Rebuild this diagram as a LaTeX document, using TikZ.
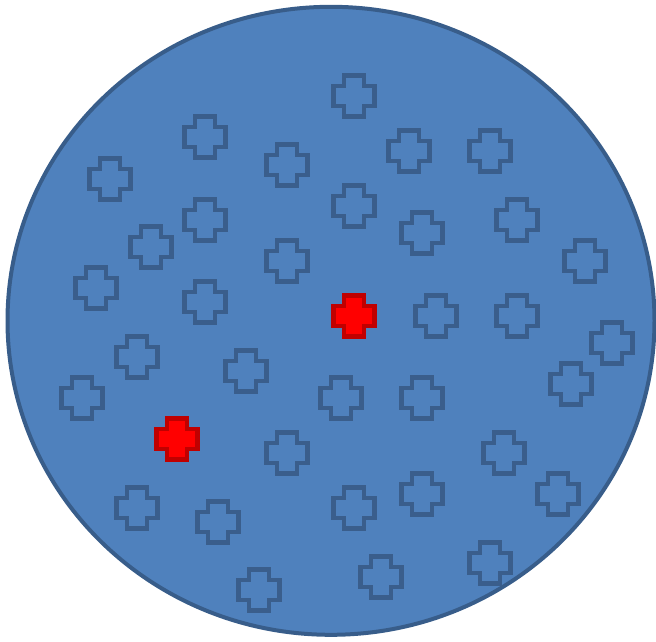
\documentclass[tikz,border=0pt]{standalone}
\definecolor{discfill}{HTML}{4F81BD}
\definecolor{discline}{HTML}{385D8A}
\definecolor{markline}{HTML}{3A5E8C}
\definecolor{hotfill}{HTML}{FF0000}
\definecolor{hotline}{HTML}{C00000}
\tikzset{
  plusshape/.pic={
    \path[pic actions] (-10.2,-20.3) -- (10.2,-20.3) -- (10.2,-10.2) -- (20.3,-10.2)
      -- (20.3,10.2) -- (10.2,10.2) -- (10.2,20.3) -- (-10.2,20.3)
      -- (-10.2,10.2) -- (-20.3,10.2) -- (-20.3,-10.2) -- (-10.2,-10.2) -- cycle;
  },
  coolmark/.style={draw=markline, line width=4.5pt, miter limit=10},
  hotmark/.style={draw=hotline, fill=hotfill, line width=4.5pt, miter limit=10},
  disc/.style={draw=discline, fill=discfill, line width=4pt},
}
\begin{document}
\begin{tikzpicture}[x=1pt,y=-1pt]
\useasboundingbox (0,0) rectangle (656,641);
\path[disc] (331,320.8) ellipse [x radius=323.5, y radius=314];
\foreach \px/\py [count=\i] in {
  354/96, 205/137, 287/165, 409/151, 490/151, 110/179, 205/220, 354/206,
  422/233, 517/220, 151/247, 287/261, 585/261, 96/288, 205/302, 436/316,
  517/316, 612/343, 137/357, 246/371, 571/384, 82/398, 341/398, 422/398,
  287/453, 504/453, 422/494, 558/494, 137/508, 354/508, 218/522, 490/563,
  381/577, 259/590}
  \pic[coolmark] (cool\i) at (\px,\py) {plusshape};
\pic[hotmark] (hotA) at (354,316) {plusshape};
\pic[hotmark] (hotB) at (177,439) {plusshape};
\end{tikzpicture}
\end{document}
